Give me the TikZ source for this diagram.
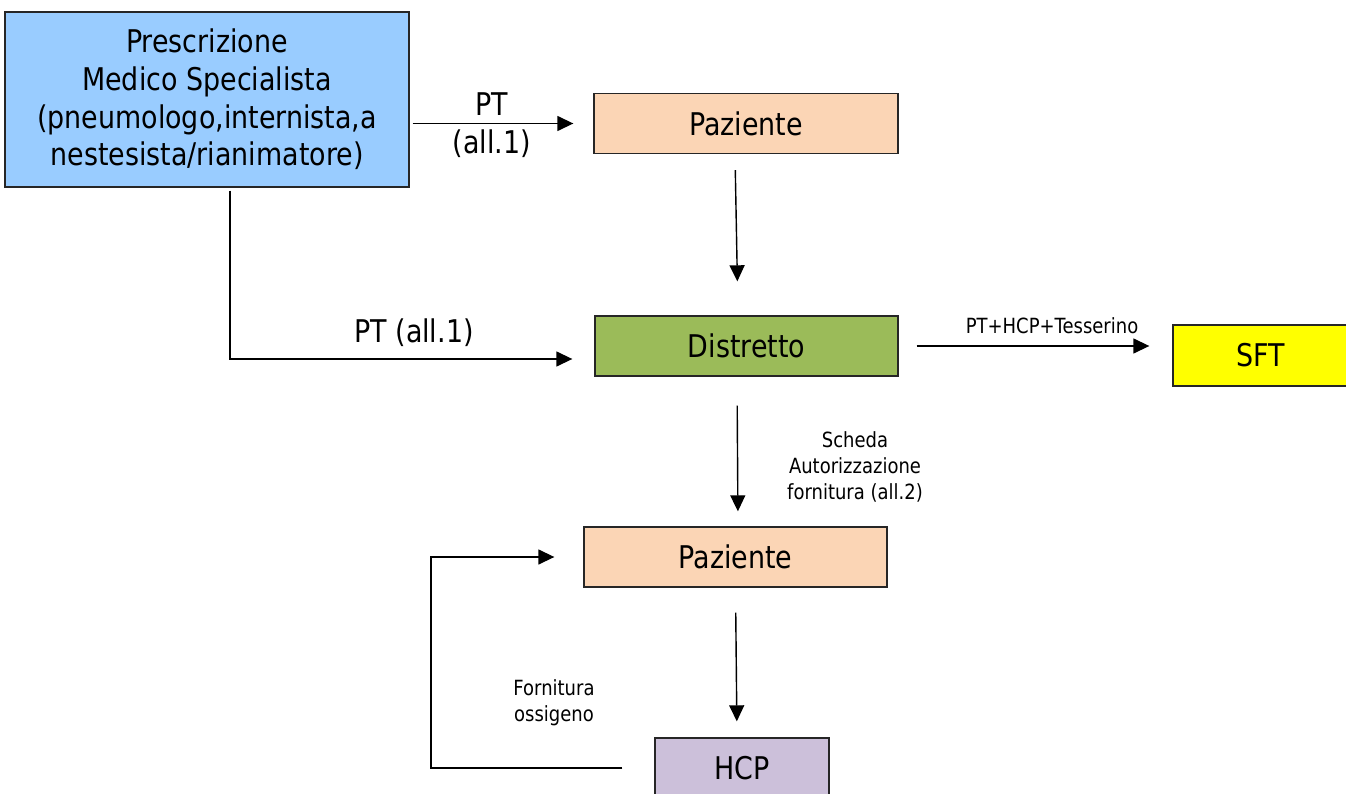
\documentclass[tikz,border=0pt]{standalone}
\usepackage{fontspec}
\setmainfont{DejaVu Sans}[FakeStretch=0.86]
\usetikzlibrary{arrows.meta}
\definecolor{boxblue}{HTML}{99CCFF}
\definecolor{boxpeach}{HTML}{FBD5B5}
\definecolor{boxgreen}{HTML}{9BBB59}
\definecolor{boxyellow}{HTML}{FFFF00}
\definecolor{boxlilac}{HTML}{CCC0DA}

\begin{document}
\begin{tikzpicture}[x=0.02cm,y=-0.02cm,
  box/.style={draw=black!85,line width=0.8pt,minimum height=1.2cm,inner sep=0pt,
    font=\fontsize{17.8}{21.5}\selectfont},
  arr/.style={-{Triangle[length=0.32cm,width=0.3cm]},line width=0.8pt},
  biglbl/.style={font=\fontsize{17.8}{21.5}\selectfont,align=center},
  smalllbl/.style={font=\fontsize{11.9}{15}\selectfont,align=center}]

\clip (0,0) rectangle (1346,794);

% caselle
\node[box,fill=boxblue,minimum width=8.08cm,minimum height=3.5cm,align=center] (presc) at (207,99.5)
  {Prescrizione\\Medico Specialista\\(pneumologo,internista,a\\nestesista/rianimatore)};
\node[box,fill=boxpeach,minimum width=6.08cm] (paz1) at (746,123.5) {Paziente};
\node[box,fill=boxgreen,minimum width=6.06cm] (distr) at (746.5,346) {Distretto};
\node[box,fill=boxyellow,minimum width=3.52cm,minimum height=1.22cm] (sft) at (1261,355.5) {SFT};
\node[box,fill=boxpeach,minimum width=6.06cm] (paz2) at (735.5,557) {Paziente};
\node[box,fill=boxlilac,minimum width=3.48cm] (hcp) at (742,768) {HCP};

% frecce
\draw[arr,shorten <=0.06cm,shorten >=0.4cm] (presc.east |- paz1.west) -- (paz1.west);
\draw[arr,shorten <=0.32cm,shorten >=0.68cm] ([xshift=-0.22cm]paz1.south) -- ([xshift=-0.17cm]distr.north);
\draw[arr,shorten <=0.06cm,shorten >=0.44cm] ([xshift=0.46cm]presc.south) |- ([yshift=-0.26cm]distr.west);
\draw[arr,shorten <=0.36cm,shorten >=0.46cm] (distr.east) -- (distr.east -| sft.west);
\draw[arr,shorten <=0.58cm,shorten >=0.3cm] ([xshift=-0.19cm]distr.south) -- ([xshift=0.05cm]paz2.north);
\draw[arr,shorten <=0.5cm,shorten >=0.32cm] (paz2.south) -- ([xshift=-0.1cm]hcp.north);

% ritorno fornitura
\coordinate (giro) at (431,660);
\draw[arr,shorten <=0.64cm,shorten >=0.58cm] (hcp.west) -- (hcp.west -| giro) |- (paz2.west);

% etichette
\node[biglbl] (ptpaz) at (492,125) {PT\\(all.1)};
\node[biglbl] (ptdis) at (414,333) {PT (all.1)};
\node[smalllbl] (ptsft) at (1052,326) {PT+HCP+Tesserino};
\node[smalllbl] (scheda) at (855,467) {Scheda\\Autorizzazione\\fornitura (all.2)};
\node[smalllbl] (forn) at (554,703) {Fornitura\\ossigeno};

\end{tikzpicture}
\end{document}
